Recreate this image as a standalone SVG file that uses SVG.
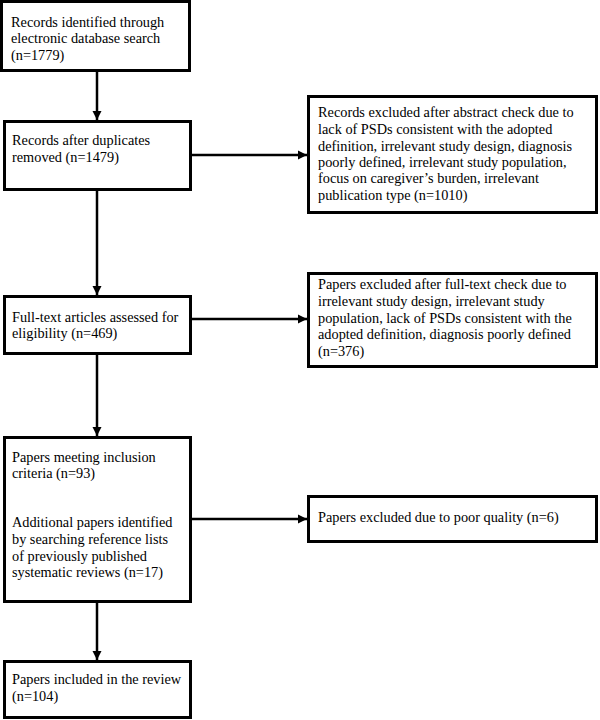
<svg xmlns="http://www.w3.org/2000/svg" width="600" height="720" viewBox="0 0 600 720">
<defs>
<style>
.box{fill:#fff;stroke:#000;stroke-width:3}
.c{stroke:#000;stroke-width:2.5;fill:none}
</style>
<marker id="ah" markerUnits="userSpaceOnUse" markerWidth="10" markerHeight="10" refX="9" refY="5" orient="auto">
<path d="M0,0.5 L9,5 L0,9.5 Z" fill="#000"/>
</marker>
</defs>
<rect width="600" height="720" fill="#fff"/>
<g id="connectors">
<line class="c" x1="97" y1="72" x2="97" y2="120" marker-end="url(#ah)"/>
<line class="c" x1="97" y1="191" x2="97" y2="295" marker-end="url(#ah)"/>
<line class="c" x1="97" y1="355" x2="97" y2="436" marker-end="url(#ah)"/>
<line class="c" x1="97" y1="603" x2="97" y2="660" marker-end="url(#ah)"/>
<line class="c" x1="192" y1="155" x2="307" y2="155" marker-end="url(#ah)"/>
<line class="c" x1="192" y1="319" x2="307" y2="319" marker-end="url(#ah)"/>
<line class="c" x1="192" y1="519" x2="307" y2="519" marker-end="url(#ah)"/>
</g>
<g font-family="Liberation Serif, DejaVu Serif, serif" font-size="14.3" fill="#000">
<g id="n1">
<rect class="box" x="1.5" y="1.5" width="188" height="69"/>
<text x="11" y="27">Records identified through</text>
<text x="11" y="43">electronic database search</text>
<text x="11" y="60">(n=1779)</text>
</g>
<g id="n2">
<rect class="box" x="4.5" y="121.5" width="186" height="68"/>
<text x="12" y="145">Records after duplicates</text>
<text x="12" y="162">removed (n=1479)</text>
</g>
<g id="n3">
<rect class="box" x="308.5" y="96.5" width="288" height="116"/>
<text x="318" y="117">Records excluded after abstract check due to</text>
<text x="318" y="134">lack of PSDs consistent with the adopted</text>
<text x="318" y="151">definition, irrelevant study design, diagnosis</text>
<text x="318" y="167">poorly defined, irrelevant study population,</text>
<text x="318" y="183">focus on caregiver’s burden, irrelevant</text>
<text x="318" y="200">publication type (n=1010)</text>
</g>
<g id="n4">
<rect class="box" x="4.5" y="296.5" width="186" height="57"/>
<text x="12" y="322">Full-text articles assessed for</text>
<text x="12" y="338">eligibility (n=469)</text>
</g>
<g id="n5">
<rect class="box" x="308.5" y="273.5" width="288" height="93"/>
<text x="318" y="289">Papers excluded after full-text check due to</text>
<text x="318" y="306">irrelevant study design, irrelevant study</text>
<text x="318" y="323">population, lack of PSDs consistent with the</text>
<text x="318" y="339">adopted definition, diagnosis poorly defined</text>
<text x="318" y="356">(n=376)</text>
</g>
<g id="n6">
<rect class="box" x="4.5" y="437.5" width="186" height="164"/>
<text x="12" y="462">Papers meeting inclusion</text>
<text x="12" y="478">criteria (n=93)</text>
<text x="12" y="527">Additional papers identified</text>
<text x="12" y="544">by searching reference lists</text>
<text x="12" y="561">of previously published</text>
<text x="12" y="577">systematic reviews (n=17)</text>
</g>
<g id="n7">
<rect class="box" x="308.5" y="496.5" width="288" height="45"/>
<text x="318" y="522">Papers excluded due to poor quality (n=6)</text>
</g>
<g id="n8">
<rect class="box" x="4.5" y="661.5" width="186" height="56"/>
<text x="12" y="684">Papers included in the review</text>
<text x="12" y="701">(n=104)</text>
</g>
</g>
</svg>
